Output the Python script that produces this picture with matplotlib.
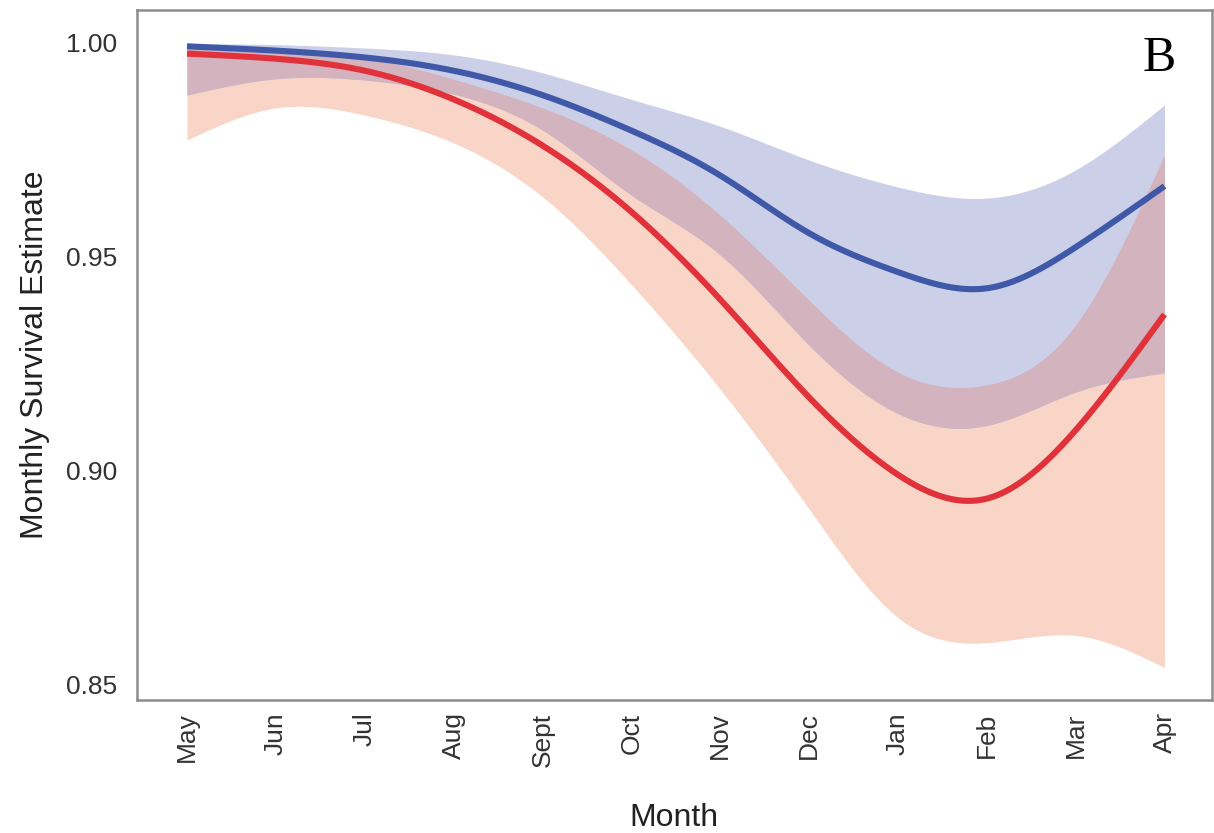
import numpy as np
import matplotlib
matplotlib.use("Agg")
import matplotlib.pyplot as plt

months = ['May', 'Jun', 'Jul', 'Aug', 'Sept', 'Oct', 'Nov', 'Dec', 'Jan', 'Feb', 'Mar', 'Apr']

blue_est = [0.9992, 0.9982, 0.9966, 0.9935, 0.9878, 0.9795, 0.9690, 0.9555, 0.9464, 0.9426, 0.9522, 0.9665]
blue_hi = [0.9998, 0.9996, 0.9988, 0.9972, 0.9930, 0.9868, 0.9805, 0.9726, 0.9663, 0.9637, 0.9703, 0.9855]
blue_lo = [0.9878, 0.9916, 0.9913, 0.9880, 0.9796, 0.9644, 0.9504, 0.9293, 0.9133, 0.9105, 0.9183, 0.9228]

red_est = [0.9975, 0.9963, 0.9935, 0.9868, 0.9760, 0.9605, 0.9400, 0.9171, 0.8990, 0.8934, 0.9094, 0.9365]
red_hi = [0.9986, 0.9980, 0.9965, 0.9915, 0.9848, 0.9750, 0.9597, 0.9398, 0.9230, 0.9200, 0.9340, 0.9738]
red_lo = [0.9773, 0.9848, 0.9831, 0.9766, 0.9640, 0.9435, 0.9190, 0.8910, 0.8656, 0.8597, 0.8614, 0.8539]

y_ticks = [1.00, 0.95, 0.90, 0.85]
y_tick_labels = ['1.00', '0.95', '0.90', '0.85']


def natural_spline(x, y, xs):
    x = np.asarray(x, float)
    y = np.asarray(y, float)
    n = len(x)
    h = np.diff(x)
    A = np.zeros((n, n))
    b = np.zeros(n)
    A[0, 0] = 1
    A[-1, -1] = 1
    for i in range(1, n - 1):
        A[i, i - 1] = h[i - 1]
        A[i, i] = 2 * (h[i - 1] + h[i])
        A[i, i + 1] = h[i]
        b[i] = 3 * ((y[i + 1] - y[i]) / h[i] - (y[i] - y[i - 1]) / h[i - 1])
    c = np.linalg.solve(A, b)
    bb = np.zeros(n - 1)
    d = np.zeros(n - 1)
    for i in range(n - 1):
        bb[i] = (y[i + 1] - y[i]) / h[i] - h[i] * (2 * c[i] + c[i + 1]) / 3
        d[i] = (c[i + 1] - c[i]) / (3 * h[i])
    idx = np.clip(np.searchsorted(x, xs) - 1, 0, n - 2)
    dx = xs - x[idx]
    return y[idx] + bb[idx] * dx + c[idx] * dx ** 2 + d[idx] * dx ** 3


x = np.arange(len(months))
xs = np.linspace(0, len(months) - 1, 600)

be = natural_spline(x, blue_est, xs)
bh = natural_spline(x, blue_hi, xs)
bl = natural_spline(x, blue_lo, xs)
re = natural_spline(x, red_est, xs)
rh = natural_spline(x, red_hi, xs)
rl = natural_spline(x, red_lo, xs)

fig = plt.figure(figsize=(12.14, 8.33), dpi=100)
ax = fig.add_axes([0.1129, 0.1597, 0.8851, 0.8283])

c_red_band = '#F9D5C7'
c_blue_band = '#CBCFE8'
c_overlap = '#D3B3BD'

ax.fill_between(xs, rl, rh, color=c_red_band, linewidth=0)
ax.fill_between(xs, bl, bh, color=c_blue_band, linewidth=0)
ov_lo = np.maximum(bl, rl)
ov_hi = np.minimum(bh, rh)
ax.fill_between(xs, ov_lo, ov_hi, where=ov_hi > ov_lo, color=c_overlap, linewidth=0)

ax.plot(xs, be, color='#3F58A8', linewidth=4.4, solid_capstyle='butt')
ax.plot(xs, re, color='#E1323C', linewidth=4.4, solid_capstyle='butt')

ax.set_xlim(-0.562, 11.53)
ax.set_ylim(0.8463, 1.0077)
ax.set_xticks(x)
ax.set_xticklabels(months, rotation=90, fontsize=19, color='#333333', family='Liberation Sans')
ax.set_yticks(y_ticks)
ax.set_yticklabels(y_tick_labels, fontsize=19, color='#333333', family='Liberation Sans')
ax.tick_params(axis='both', length=0)
ax.tick_params(axis='y', pad=14)
ax.tick_params(axis='x', pad=9)

for s in ax.spines.values():
    s.set_color('#8C8C8C')
    s.set_linewidth(1.8)

ax.set_xlabel('Month', fontsize=23, color='#222222', family='Liberation Sans', labelpad=26)
ax.set_ylabel('Monthly Survival Estimate', fontsize=23, color='#222222', family='Liberation Sans', labelpad=12)

ax.text(0.951, 0.93, 'B', transform=ax.transAxes, fontsize=36, family='Liberation Serif',
        ha='center', va='center', color='black')

fig.savefig('out.png', dpi=100, facecolor='white')
